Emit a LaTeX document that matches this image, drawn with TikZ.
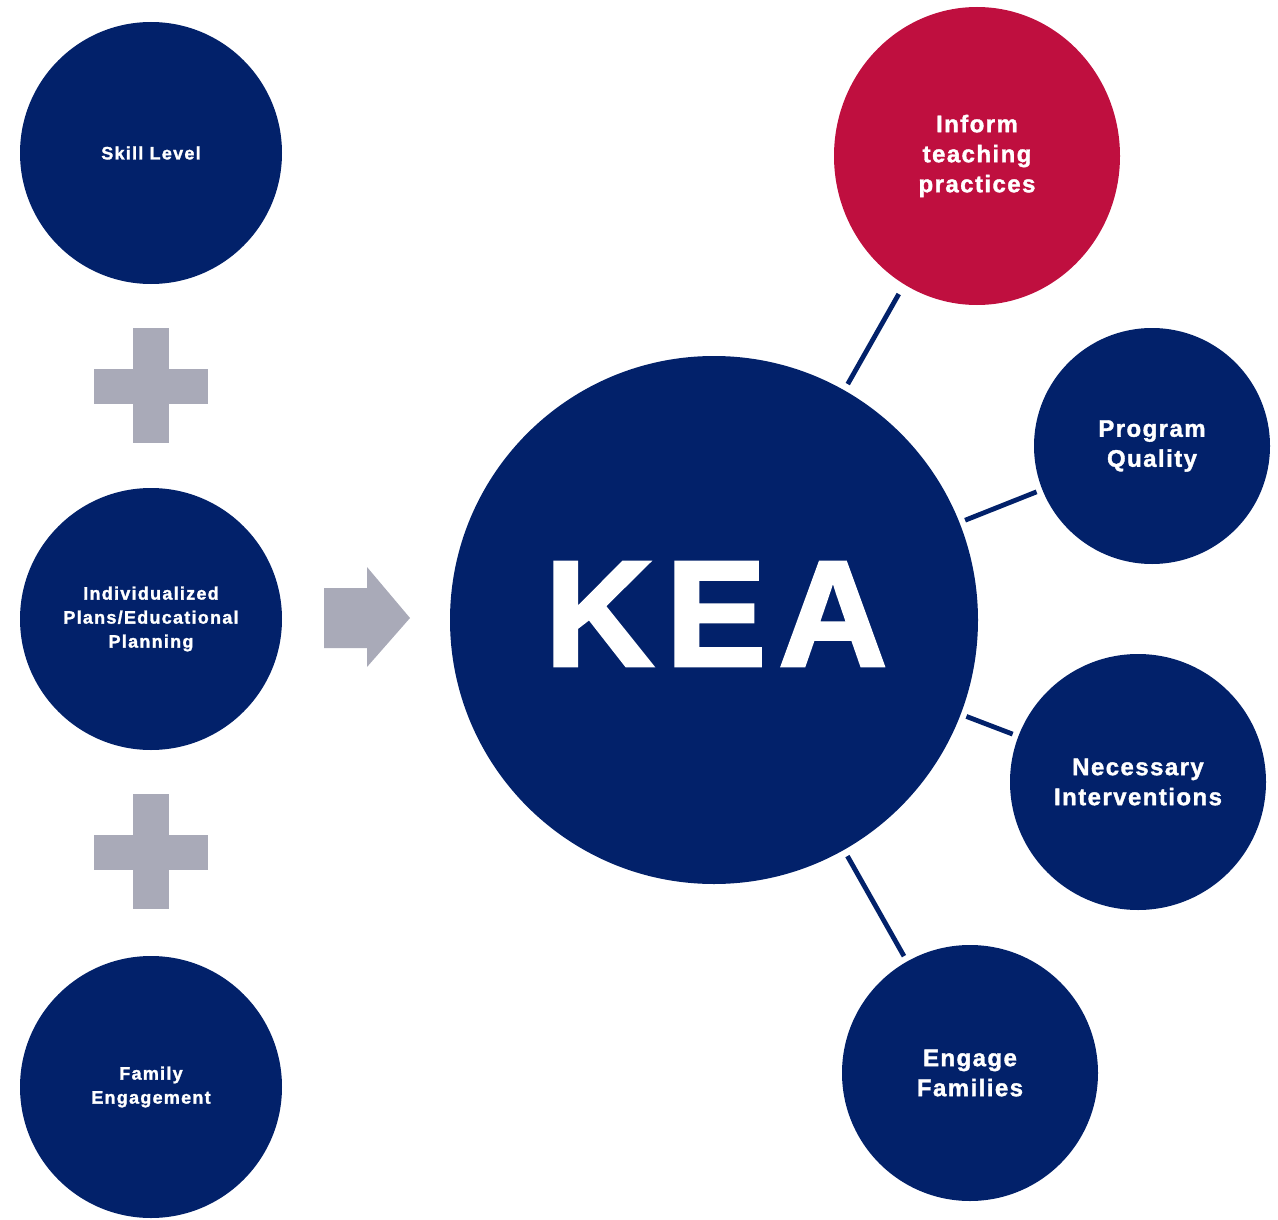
\documentclass[tikz,border=0pt]{standalone}
\usepackage{fontspec}
\setmainfont{Liberation Sans}
\newfontfamily\spacedA[LetterSpace=7,FakeBold=1.5]{Liberation Sans}
\newfontfamily\spacedB[LetterSpace=6,FakeBold=1.5]{Liberation Sans}
\newfontfamily\spacedK[LetterSpace=8.5,FakeBold=2.2]{Liberation Sans}
\usetikzlibrary{shapes.geometric}
\definecolor{navy}{HTML}{02216A}
\definecolor{crimson}{HTML}{BF0F3F}
\definecolor{plusgray}{HTML}{A9AAB8}
\tikzset{
  bubble/.style={circle, fill=navy, inner sep=0pt, text=white, align=center},
  smalltext/.style={font=\fontsize{18}{24}\selectfont\spacedA\bfseries},
  bigtext/.style={font=\fontsize{24}{30}\selectfont\spacedB\bfseries},
  link/.style={draw=navy, line width=4.8pt, shorten <=7pt, shorten >=7pt},
  grayshape/.style={fill=plusgray, draw=none}
}
\begin{document}
\begin{tikzpicture}[x=1pt,y=-1pt]
\useasboundingbox (0,0) rectangle (1278,1220);
% left column
\node[bubble, smalltext, minimum size=262pt] (skill) at (151,153) {Skill Level};
\node[bubble, smalltext, minimum size=262pt] (plans) at (151,619) {Individualized\\Plans/Educational\\Planning};
\node[bubble, smalltext, minimum size=262pt] (family) at (151,1087) {Family\\Engagement};
% plus signs
\fill[grayshape] (133,328) rectangle (169,443);
\fill[grayshape] (94,369) rectangle (208,404);
\fill[grayshape] (133,794) rectangle (169,909);
\fill[grayshape] (94,835) rectangle (208,870);
% arrow
\fill[grayshape] (324,588) -- (367,588) -- (367,567) -- (410,618) -- (367,667) -- (367,648) -- (324,648) -- cycle;
% center
\node[bubble, minimum size=528pt] (kea) at (714,620) {};
\node[text=white, inner sep=0pt, font=\fontsize{150}{150}\selectfont\spacedK\bfseries] (kealabel) at (716,614) {KEA};
% right
\node[ellipse, fill=crimson, minimum width=286pt, minimum height=298pt, inner sep=0pt, text=white, align=center, bigtext] (inform) at (977,156) {Inform\\teaching\\practices};
\node[bubble, bigtext, minimum size=236pt] (quality) at (1152,446) {Program\\Quality};
\node[bubble, bigtext, minimum size=256pt] (interv) at (1138,782) {Necessary\\Interventions};
\node[bubble, bigtext, minimum size=256pt] (engage) at (970,1073) {Engage\\Families};
% links
\draw[link, shorten >=11pt] (kea) -- (inform);
\draw[link, shorten <=6pt, shorten >=6pt] (kea) -- (quality);
\draw[link, shorten <=6pt, shorten >=6pt] (kea) -- (interv);
\draw[link, shorten <=7pt, shorten >=6pt] (kea) -- (engage);
\end{tikzpicture}
\end{document}
